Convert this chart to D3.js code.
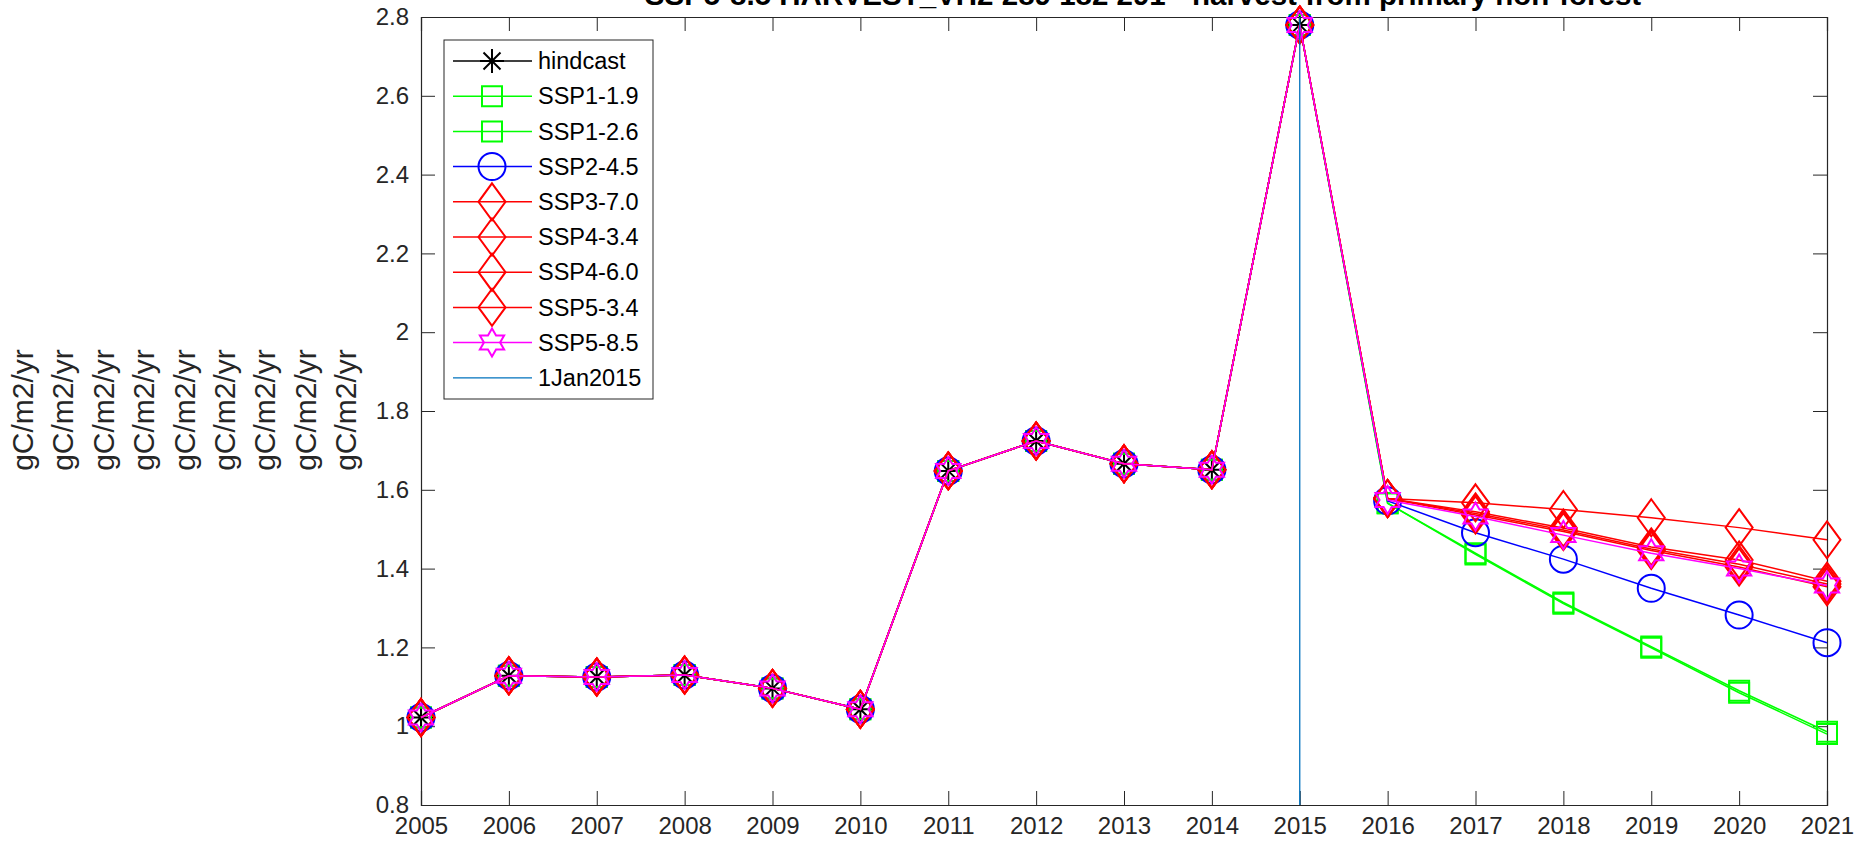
<!DOCTYPE html>
<html>
<head>
<meta charset="utf-8">
<script src="https://cdn.jsdelivr.net/npm/d3@7"></script>
<style>
  body { margin: 0; background: #fff; }
  svg { display: block; font-family: "Liberation Sans", Arial, Helvetica, sans-serif; }
</style>
</head>
<body>
<div id="chart"></div>
<script>
// years and tick labels
var years = d3.range(2005, 2022);
var yTicks = [0.8, 1, 1.2, 1.4, 1.6, 1.8, 2, 2.2, 2.4, 2.6, 2.8];
var titleText = "SSP5-8.5 HARVEST_VH2 289 182 291 - harvest from primary non-forest";
var yLabelLines = ["gC/m2/yr", "gC/m2/yr", "gC/m2/yr", "gC/m2/yr", "gC/m2/yr",
                   "gC/m2/yr", "gC/m2/yr", "gC/m2/yr", "gC/m2/yr"];

// hindcast 2005-2015
var hindcast = [1.022, 1.128, 1.125, 1.130, 1.096, 1.043, 1.648, 1.724, 1.666, 1.651, 2.78];

// scenario values 2016-2021
var ssp119 = [1.566, 1.439, 1.314, 1.202, 1.090, 0.986];
var ssp126 = [1.566, 1.436, 1.311, 1.199, 1.085, 0.980];
var ssp245 = [1.572, 1.491, 1.424, 1.350, 1.282, 1.212];
var ssp370 = [1.578, 1.567, 1.550, 1.529, 1.504, 1.473];
var ssp434 = [1.578, 1.544, 1.503, 1.455, 1.422, 1.368];
var ssp460 = [1.578, 1.540, 1.498, 1.450, 1.411, 1.361];
var ssp534 = [1.578, 1.536, 1.494, 1.446, 1.404, 1.354];
var ssp585 = [1.574, 1.532, 1.485, 1.439, 1.400, 1.357];

var series = [
  {name: "hindcast", color: "#000000", marker: "asterisk", values: hindcast},
  {name: "SSP1-1.9", color: "#00ff00", marker: "square", values: hindcast.concat(ssp119)},
  {name: "SSP1-2.6", color: "#00ff00", marker: "square", values: hindcast.concat(ssp126)},
  {name: "SSP2-4.5", color: "#0000ff", marker: "circle", values: hindcast.concat(ssp245)},
  {name: "SSP3-7.0", color: "#ff0000", marker: "diamond", values: hindcast.concat(ssp370)},
  {name: "SSP4-3.4", color: "#ff0000", marker: "diamond", values: hindcast.concat(ssp434)},
  {name: "SSP4-6.0", color: "#ff0000", marker: "diamond", values: hindcast.concat(ssp460)},
  {name: "SSP5-3.4", color: "#ff0000", marker: "diamond", values: hindcast.concat(ssp534)},
  {name: "SSP5-8.5", color: "#ff00ff", marker: "hexagram", values: hindcast.concat(ssp585)}
];
var refYear = 2015;
var refColor = "#0072bd";

var W = 1869, H = 851;
var plotL = 421, plotR = 1827, plotT = 17, plotB = 805;
var axisColor = "#262626";

var svg = d3.select("#chart").append("svg")
  .attr("width", W)
  .attr("height", H);

var x = d3.scaleLinear().domain([2005, 2021]).range([plotL, plotR]);
var y = d3.scaleLinear().domain([0.8, 2.8]).range([plotB, plotT]);

// marker shapes
function markerPath(type) {
  if (type == "square") {
    var s = 10;
    return "M" + -s + "," + -s + "H" + s + "V" + s + "H" + -s + "Z";
  }
  if (type == "circle") {
    var r = 13.5;
    return "M" + r + ",0A" + r + "," + r + " 0 1,1 " + -r + ",0A" + r + "," + r + " 0 1,1 " + r + ",0Z";
  }
  if (type == "diamond") {
    return "M0,-18.5L13.5,0L0,18.5L-13.5,0Z";
  }
  if (type == "hexagram") {
    var R = 14, ri = R / Math.sqrt(3), p = [];
    for (var i = 0; i < 12; i++) {
      var a = -Math.PI / 2 + i * Math.PI / 6;
      var rr = i % 2 == 0 ? R : ri;
      p.push([rr * Math.cos(a), rr * Math.sin(a)]);
    }
    return "M" + p.map(function(d) { return d[0].toFixed(2) + "," + d[1].toFixed(2); }).join("L") + "Z";
  }
  if (type == "asterisk") {
    var a2 = 12, d2 = 8.5;
    return "M0," + -a2 + "V" + a2 + "M" + -a2 + ",0H" + a2 +
      "M" + -d2 + "," + -d2 + "L" + d2 + "," + d2 + "M" + -d2 + "," + d2 + "L" + d2 + "," + -d2;
  }
}

function styleAxis(g) {
  g.select(".domain").attr("stroke", axisColor).attr("stroke-width", 1.2);
  g.selectAll(".tick line").attr("stroke", axisColor).attr("stroke-width", 1);
  g.selectAll("text").attr("fill", axisColor).style("font-size", "24px").attr("font-family", null);
}

// axes box: bottom, left, top, right (ticks point inwards)
svg.append("g")
  .attr("transform", "translate(0," + plotB + ")")
  .call(d3.axisBottom(x).tickValues(years).tickFormat(d3.format("d")).tickSize(-14).tickPadding(12))
  .call(styleAxis);

svg.append("g")
  .attr("transform", "translate(" + plotL + ",0)")
  .call(d3.axisLeft(y).tickValues(yTicks).tickFormat(d3.format("")).tickSize(-14).tickPadding(12))
  .call(styleAxis);

svg.append("g")
  .attr("transform", "translate(0," + plotT + ")")
  .call(d3.axisTop(x).tickValues(years).tickFormat("").tickSize(-14))
  .call(styleAxis);

svg.append("g")
  .attr("transform", "translate(" + plotR + ",0)")
  .call(d3.axisRight(y).tickValues(yTicks).tickFormat("").tickSize(-14))
  .call(styleAxis);

// lines and markers
var line = d3.line()
  .x(function(d, i) { return x(years[i]); })
  .y(function(d) { return y(d); });

series.forEach(function(s) {
  var g = svg.append("g");
  g.append("path")
    .attr("d", line(s.values))
    .attr("fill", "none")
    .attr("stroke", s.color)
    .attr("stroke-width", 1.5);
  g.selectAll("path.mk")
    .data(s.values)
    .enter()
    .append("path")
    .attr("class", "mk")
    .attr("transform", function(d, i) { return "translate(" + x(years[i]) + "," + y(d) + ")"; })
    .attr("d", markerPath(s.marker))
    .attr("fill", "none")
    .attr("stroke", s.color)
    .attr("stroke-width", 2);
});

// 1Jan2015 line
svg.append("line")
  .attr("x1", x(refYear)).attr("x2", x(refYear))
  .attr("y1", y(0.8)).attr("y2", y(2.8))
  .attr("stroke", refColor)
  .attr("stroke-width", 1.3);

// title (sits partly above the top of the picture)
svg.append("text")
  .attr("x", 1143)
  .attr("y", 5)
  .attr("text-anchor", "middle")
  .style("font-size", "29.5px")
  .style("font-weight", "bold")
  .attr("fill", "#000")
  .text(titleText);

// y label, nine stacked lines
svg.append("g")
  .selectAll("text")
  .data(yLabelLines)
  .enter()
  .append("text")
  .attr("transform", function(d, i) { return "translate(" + (33 + i * 40.4) + ",410) rotate(-90)"; })
  .attr("text-anchor", "middle")
  .style("font-size", "30px")
  .attr("fill", axisColor)
  .text(function(d) { return d; });

// legend
var legItems = series.map(function(s) { return {name: s.name, color: s.color, marker: s.marker, w: 1.5}; });
legItems.push({name: "1Jan2015", color: refColor, marker: null, w: 1.3});

var leg = svg.append("g");
leg.append("rect")
  .attr("x", 444).attr("y", 40)
  .attr("width", 209).attr("height", 359)
  .attr("fill", "#fff")
  .attr("stroke", axisColor)
  .attr("stroke-width", 1);

var rows = leg.selectAll("g.row")
  .data(legItems)
  .enter()
  .append("g")
  .attr("class", "row")
  .attr("transform", function(d, i) { return "translate(0," + (61 + i * 35.2) + ")"; });

rows.append("line")
  .attr("x1", 453).attr("x2", 532)
  .attr("stroke", function(d) { return d.color; })
  .attr("stroke-width", function(d) { return d.w; });

rows.filter(function(d) { return d.marker; })
  .append("path")
  .attr("transform", "translate(492,0)")
  .attr("d", function(d) { return markerPath(d.marker); })
  .attr("fill", "none")
  .attr("stroke", function(d) { return d.color; })
  .attr("stroke-width", 2);

rows.append("text")
  .attr("x", 538)
  .attr("dy", "0.35em")
  .style("font-size", "23.5px")
  .attr("fill", "#000")
  .text(function(d) { return d.name; });
</script>
</body>
</html>
